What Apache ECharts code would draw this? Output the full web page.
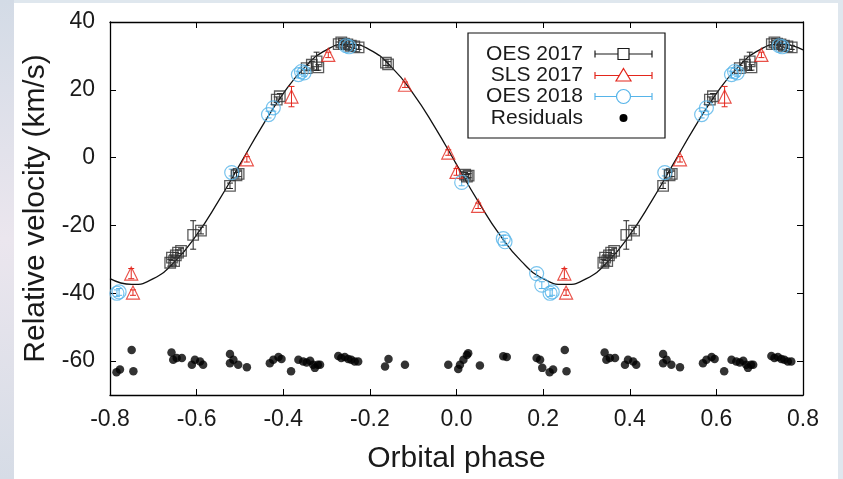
<!DOCTYPE html>
<html>
<head>
<meta charset="utf-8">
<script src="https://cdn.jsdelivr.net/npm/echarts@6/dist/echarts.min.js"></script>
<style>
  html, body { margin: 0; padding: 0; background: #fff; }
  #chart { width: 843px; height: 479px; }
</style>
</head>
<body>
<div id="chart"></div>
<script>
// phases are kept in [-0.5, 0.5); the plot repeats them one cycle either side
const oes17Phase = [0.339, 0.343, 0.348, 0.352, 0.357, 0.364, 0.392, 0.410, 0.477, 0.492, 0.497,
  -0.415, -0.408, -0.346, -0.334, -0.323, -0.319, -0.272, -0.266, -0.260, -0.252, -0.244, -0.236,
  -0.226, -0.163, -0.158, 0.020, 0.024, 0.028];
const oes17Vel = [-31.0, -29.5, -30.5, -28.8, -28.0, -27.5, -22.8, -21.5, -8.3, -5.2, -4.8,
  17.1, 18.1, 26.4, 27.4, 28.4, 26.6, 33.5, 34.0, 33.6, 33.4, 33.0, 32.8,
  32.5, 28.0, 27.5, -5.0, -5.6, -5.3];
const oes17Err = [1.0, 0.8, 1.2, 0.8, 0.8, 0.8, 4.2, 1.0, 0.8, 0.8, 0.8,
  0.8, 0.8, 0.8, 1.0, 2.7, 0.8, 0.6, 0.6, 0.6, 0.6, 0.6, 0.6,
  0.6, 0.8, 0.8, 0.6, 0.6, 0.6];

const slsPhase = [-0.484, -0.381, -0.296, -0.119, -0.019, 0.000, 0.050, 0.249, 0.253];
const slsVel = [-0.5, 18.0, 30.3, 21.5, 1.5, -4.2, -14.2, -34.2, -39.8];
const slsErr = [0.8, 3.0, 0.8, 0.8, 0.8, 1.0, 0.8, 1.5, 0.8];

const oes18Phase = [0.481, -0.434, -0.423, -0.365, -0.358, -0.352, -0.255, -0.248,
  0.012, 0.108, 0.112, 0.185, 0.197, 0.216, 0.221];
const oes18Vel = [-4.4, 12.7, 14.7, 24.5, 25.4, 25.0, 33.0, 32.7,
  -7.3, -23.9, -24.8, -34.2, -37.6, -40.0, -39.6];
const oes18Err = [1.0, 1.0, 1.0, 1.0, 1.0, 1.0, 1.0, 1.0,
  1.0, 1.0, 1.0, 1.0, 1.0, 1.0, 1.0];

// residuals as plotted (shifted down to -60)
const resPhase = [0.215, 0.223, 0.250, 0.254, 0.342, 0.346, 0.354, 0.366, 0.389, 0.396, 0.408, 0.415,
  0.477, 0.477, 0.485, 0.496, -0.484, -0.431, -0.423, -0.411, -0.404, -0.382, -0.365, -0.354,
  -0.346, -0.338, -0.331, -0.327, -0.320, -0.315, -0.273, -0.266, -0.258, -0.250, -0.243, -0.235,
  -0.227, -0.165, -0.157, -0.119, -0.019, 0.004, 0.008, 0.016, 0.024, 0.027, 0.054, 0.108,
  0.116, 0.185, 0.193, 0.198];
const resVel = [-63.3, -62.5, -56.7, -63.0, -57.5, -59.6, -59.1, -59.1, -61.1, -59.6, -60.1, -61.1,
  -57.9, -60.6, -59.6, -61.1, -61.8, -60.6, -59.6, -58.8, -59.4, -63.0, -59.6, -60.1,
  -60.4, -59.9, -61.1, -62.0, -61.1, -61.1, -58.5, -59.1, -58.8, -59.4, -59.6, -60.1,
  -60.1, -61.6, -59.4, -61.1, -61.1, -62.3, -61.1, -59.6, -58.2, -57.7, -61.3, -58.6,
  -58.8, -59.1, -59.6, -62.0];

// fitted orbit, every 0.05 in phase
const curvePhase = [-0.80, -0.75, -0.70, -0.65, -0.60, -0.55, -0.50, -0.45, -0.40, -0.35, -0.30,
  -0.25, -0.20, -0.15, -0.10, -0.05, 0.00, 0.05, 0.10, 0.15, 0.20, 0.25, 0.30, 0.35, 0.40,
  0.45, 0.50, 0.55, 0.60, 0.65, 0.70, 0.75, 0.80];
const curveVel = [-35.7, -37.4, -35.7, -30.6, -22.8, -12.9, -2.0, 9.0, 18.9, 26.7, 31.8,
  33.5, 31.8, 26.7, 18.9, 9.0, -2.0, -12.9, -22.8, -30.6, -35.7, -37.4, -35.7, -30.6, -22.8,
  -12.9, -2.0, 9.0, 18.9, 26.7, 31.8, 33.5, 31.8];

const yTicks = [-60, -40, -20, 0, 20, 40];

const FONT = 'Liberation Sans, Arial, sans-serif';
const INK = '#1a1a1a';
const RED = '#e3261c';
const BLUE = '#56b4e9';

// repeat folded points one cycle left/right inside the plotted window
function fold(ph, vel, err) {
  const out = [];
  for (let i = 0; i < ph.length; ++i) {
    [-1, 0, 1].forEach((s) => {
      const p = ph[i] + s;
      if (p >= -0.8 && p <= 0.8) out.push([p, vel[i], err ? err[i] : 0]);
    });
  }
  return out;
}

function errBars(name, data, color) {
  return {
    name: name,
    type: 'custom',
    clip: true,
    z: 3,
    encode: {x: 0, y: 1},
    data: data,
    renderItem: function(params, api) {
      const x = api.value(0);
      const y = api.value(1);
      const e = api.value(2);
      const a = api.coord([x, y + e]);
      const b = api.coord([x, y - e]);
      const st = {stroke: color, lineWidth: 1};
      return {
        type: 'group',
        children: [
          {type: 'line', shape: {x1: a[0], y1: a[1], x2: b[0], y2: b[1]}, style: st},
          {type: 'line', shape: {x1: a[0] - 3, y1: a[1], x2: a[0] + 3, y2: a[1]}, style: st},
          {type: 'line', shape: {x1: b[0] - 3, y1: b[1], x2: b[0] + 3, y2: b[1]}, style: st},
        ],
      };
    },
  };
}

const oes17 = fold(oes17Phase, oes17Vel, oes17Err);
const sls = fold(slsPhase, slsVel, slsErr);
const oes18 = fold(oes18Phase, oes18Vel, oes18Err);
const res = fold(resPhase, resVel);
const curve = curvePhase.map((p, i) => [p, curveVel[i]]);

const axisLine = {onZero: false, lineStyle: {color: '#000', width: 1.3}};
const tick = {inside: true, length: 6, lineStyle: {color: '#000', width: 1}};

// legend drawn by hand: text on the left, error-bar glyph on the right
const legRows = [54, 75.5, 96.5, 118];
const legNames = ['OES 2017', 'SLS 2017', 'OES 2018', 'Residuals'];
const legColors = [INK, RED, BLUE];
const legend = [
  {type: 'rect', shape: {x: 468, y: 33, width: 197, height: 105},
    style: {fill: '#fff', stroke: '#111', lineWidth: 1.2}, z: 10},
];
legNames.forEach((n, i) => {
  legend.push({type: 'text', x: 583, y: legRows[i], z: 11,
    style: {text: n, fill: INK, font: '21px ' + FONT, textAlign: 'right', textVerticalAlign: 'middle'}});
});
legColors.forEach((c, i) => {
  const y = legRows[i];
  const st = {stroke: c, lineWidth: 1.2};
  legend.push({type: 'line', z: 11, shape: {x1: 595, y1: y, x2: 652, y2: y}, style: st});
  legend.push({type: 'line', z: 11, shape: {x1: 595, y1: y - 3.5, x2: 595, y2: y + 3.5}, style: st});
  legend.push({type: 'line', z: 11, shape: {x1: 652, y1: y - 3.5, x2: 652, y2: y + 3.5}, style: st});
});
legend.push({type: 'rect', z: 12, shape: {x: 618, y: legRows[0] - 5.5, width: 11, height: 11},
  style: {fill: '#fff', stroke: INK, lineWidth: 1.2}});
legend.push({type: 'polygon', z: 12,
  shape: {points: [[623.5, legRows[1] - 7], [631, legRows[1] + 5.5], [616, legRows[1] + 5.5]]},
  style: {fill: '#fff', stroke: RED, lineWidth: 1.2}});
legend.push({type: 'circle', z: 12, shape: {cx: 623.5, cy: legRows[2], r: 7},
  style: {fill: '#fff', stroke: BLUE, lineWidth: 1.2}});
legend.push({type: 'circle', z: 12, shape: {cx: 623.5, cy: legRows[3], r: 4},
  style: {fill: '#000'}});

// slide edges around the figure
const frame = [
  {type: 'rect', z: -10, shape: {x: 0, y: 0, width: 14, height: 479},
    style: {fill: new echarts.graphic.LinearGradient(0, 0, 0, 1, [
      {offset: 0, color: '#d3dbe6'}, {offset: 0.5, color: '#ebe6ee'}, {offset: 1, color: '#d6dce6'},
    ])}},
  {type: 'rect', z: -10, shape: {x: 14, y: 0, width: 829, height: 3}, style: {fill: '#dfe7ee'}},
  {type: 'rect', z: -10, shape: {x: 838, y: 0, width: 5, height: 479}, style: {fill: '#dfe7ee'}},
];

const ops = {
  backgroundColor: '#fff',
  animation: false,
  textStyle: {fontFamily: FONT},
  grid: {left: 110, right: 40, top: 22, bottom: 82},
  xAxis: [
    {
      type: 'value', min: -0.8, max: 0.8, interval: 0.2,
      axisLine: axisLine, axisTick: tick, splitLine: {show: false},
      axisLabel: {
        fontSize: 23, color: INK, margin: 13, fontFamily: FONT,
        formatter: (v) => (Math.abs(v) < 1e-9 ? '0.0' : v.toFixed(1)),
      },
      name: 'Orbital phase', nameLocation: 'middle', nameGap: 49,
      nameTextStyle: {fontSize: 30, color: INK, fontFamily: FONT},
    },
    {
      type: 'value', position: 'top', min: -0.8, max: 0.8, interval: 0.2,
      axisLine: axisLine, axisTick: tick, splitLine: {show: false},
      axisLabel: {show: false},
    },
  ],
  yAxis: [
    {
      type: 'value', min: -70, max: 40,
      axisLine: axisLine, splitLine: {show: false},
      axisTick: Object.assign({customValues: yTicks}, tick),
      axisLabel: {customValues: yTicks, fontSize: 23, color: INK, margin: 15, fontFamily: FONT},
      name: 'Relative velocity (km/s)', nameLocation: 'middle', nameGap: 52, nameRotate: 90,
      nameTextStyle: {fontSize: 30, color: INK, fontFamily: FONT},
    },
    {
      type: 'value', position: 'right', min: -70, max: 40,
      axisLine: axisLine, splitLine: {show: false},
      axisTick: Object.assign({customValues: yTicks}, tick),
      axisLabel: {show: false},
    },
  ],
  graphic: frame.concat(legend),
  series: [
    {
      name: 'fit', type: 'line', data: curve, smooth: true, showSymbol: false,
      lineStyle: {color: '#111', width: 1.3}, z: 2,
    },
    errBars('OES 2017 err', oes17, '#222'),
    errBars('SLS 2017 err', sls, RED),
    errBars('OES 2018 err', oes18, BLUE),
    {
      name: 'OES 2017', type: 'scatter', data: oes17, symbol: 'rect', symbolSize: 10.5, z: 4,
      itemStyle: {color: 'rgba(0,0,0,0)', borderColor: '#333', borderWidth: 1.3},
    },
    {
      name: 'SLS 2017', type: 'scatter', data: sls, symbol: 'triangle', symbolSize: 13, z: 4,
      itemStyle: {color: 'rgba(0,0,0,0)', borderColor: RED, borderWidth: 1.2},
    },
    {
      name: 'OES 2018', type: 'scatter', data: oes18, symbol: 'circle', symbolSize: 14, z: 4,
      itemStyle: {color: 'rgba(0,0,0,0)', borderColor: BLUE, borderWidth: 1.2},
    },
    {
      name: 'Residuals', type: 'scatter', data: res, symbol: 'circle', symbolSize: 8.5, z: 4,
      itemStyle: {color: '#000'},
    },
  ],
};

const chart = echarts.init(document.getElementById('chart'), null, {renderer: 'canvas'});
chart.setOption(ops);
</script>
</body>
</html>
